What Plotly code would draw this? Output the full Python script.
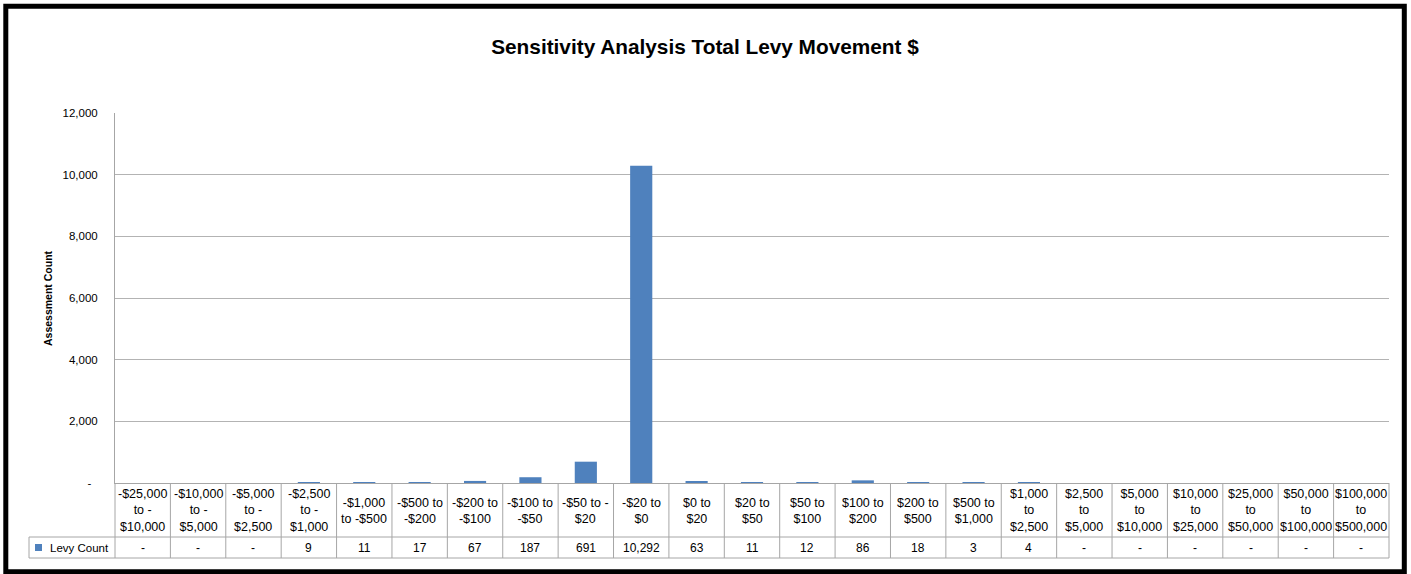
import plotly.graph_objects as go

# ---------------- data ----------------
categories = [
    "-$25,000<br>to -<br>$10,000", "-$10,000<br>to -<br>$5,000", "-$5,000<br>to -<br>$2,500",
    "-$2,500<br>to -<br>$1,000", "-$1,000<br>to -$500", "-$500 to<br>-$200", "-$200 to<br>-$100",
    "-$100 to<br>-$50", "-$50 to -<br>$20", "-$20 to<br>$0", "$0 to<br>$20", "$20 to<br>$50",
    "$50 to<br>$100", "$100 to<br>$200", "$200 to<br>$500", "$500 to<br>$1,000",
    "$1,000<br>to<br>$2,500", "$2,500<br>to<br>$5,000", "$5,000<br>to<br>$10,000",
    "$10,000<br>to<br>$25,000", "$25,000<br>to<br>$50,000", "$50,000<br>to<br>$100,000",
    "$100,000<br>to<br>$500,000",
]
levy_count = [0, 0, 0, 9, 11, 17, 67, 187, 691, 10292, 63, 11, 12, 86, 18, 3, 4, 0, 0, 0, 0, 0, 0]
series_name = "Levy Count"
y_tick_values = [0, 2000, 4000, 6000, 8000, 10000, 12000]
y_tick_labels = ["-\u00a0\u00a0", "2,000", "4,000", "6,000", "8,000", "10,000", "12,000"]
title_text = "Sensitivity Analysis Total Levy Movement $"
y_title = "Assessment Count"

# ---------------- layout geometry ----------------
FIG_W, FIG_H = 1411, 574
L, R, T, B = 115, 22, 113, 91
PW = FIG_W - L - R
PH = FIG_H - T - B
BAR_COLOR = "#4f81bd"
GRID = "#b3b3b3"
TABLE_LINE = "#a6a6a6"
FONT = "Liberation Sans, Arial, sans-serif"


def px_x(px):
    return (px - L) / PW


def px_y(py):
    return 1 - (py - T) / PH


n = len(categories)
x_idx = list(range(n))

fig = go.Figure()
fig.add_trace(go.Bar(
    x=x_idx, y=levy_count, name=series_name,
    marker=dict(color=BAR_COLOR, line=dict(width=0)),
    showlegend=False,
))

shapes = []
annotations = []

# table rows
header_mid = px_y(511)
row_mid = px_y(547.5)
row_top = px_y(537)
row_bot = px_y(558)
axis_bot = px_y(483)
legend_left = px_x(29)

for i, (cat, v) in enumerate(zip(categories, levy_count)):
    annotations.append(dict(x=i, xref="x", y=header_mid, yref="paper", text=cat,
                            showarrow=False, xanchor="center", yanchor="middle",
                            font=dict(family=FONT, size=12.5, color="#000")))
    annotations.append(dict(x=i, xref="x", y=row_mid, yref="paper",
                            text=(f"{v:,}" if v else "-"),
                            showarrow=False, xanchor="center", yanchor="middle",
                            font=dict(family=FONT, size=12, color="#000")))

# vertical table lines at category boundaries
for i in range(n + 1):
    xp = i / n
    shapes.append(dict(type="line", xref="paper", yref="paper", x0=xp, x1=xp,
                       y0=axis_bot, y1=row_bot, line=dict(color=TABLE_LINE, width=1)))
# horizontal table lines
for yy in (row_top, row_bot):
    shapes.append(dict(type="line", xref="paper", yref="paper", x0=legend_left, x1=1,
                       y0=yy, y1=yy, line=dict(color=TABLE_LINE, width=1)))
shapes.append(dict(type="line", xref="paper", yref="paper", x0=legend_left, x1=legend_left,
                   y0=row_top, y1=row_bot, line=dict(color=TABLE_LINE, width=1)))

# legend key
shapes.append(dict(type="rect", xref="paper", yref="paper", x0=px_x(35), x1=px_x(42),
                   y0=px_y(551), y1=px_y(544), fillcolor=BAR_COLOR, line=dict(width=0)))
annotations.append(dict(x=px_x(48), xref="paper", y=row_mid, yref="paper", text=series_name,
                        showarrow=False, xanchor="left", yanchor="middle",
                        font=dict(family=FONT, size=11.5, color="#000")))

# y-axis title
annotations.append(dict(x=px_x(48), xref="paper", y=0.5, yref="paper", text=f"<b>{y_title}</b>",
                        textangle=-90, showarrow=False, xanchor="center", yanchor="middle",
                        font=dict(family=FONT, size=10.5, color="#000")))

# outer frame
shapes.append(dict(type="rect", xref="paper", yref="paper", x0=px_x(5.8), x1=px_x(1404.3),
                   y0=px_y(571.8), y1=px_y(6.2), line=dict(color="#000", width=5),
                   fillcolor="rgba(0,0,0,0)", layer="above"))

fig.update_layout(
    width=FIG_W, height=FIG_H,
    margin=dict(l=L, r=R, t=T, b=B, autoexpand=False),
    paper_bgcolor="white", plot_bgcolor="white",
    bargap=0.6,
    title=dict(text=f"<b>{title_text}</b>", x=705 / FIG_W, xanchor="center",
               y=1 - 47 / FIG_H, yanchor="middle", xref="container", yref="container",
               font=dict(family=FONT, size=20.8, color="#000")),
    xaxis=dict(type="linear", range=[-0.5, n - 0.5], showticklabels=False, showgrid=False,
               zeroline=False, showline=True, linecolor=TABLE_LINE, linewidth=1, ticks=""),
    yaxis=dict(range=[0, 12000], tickvals=y_tick_values, ticktext=y_tick_labels,
               showgrid=True, gridcolor=GRID, gridwidth=1, zeroline=False,
               showline=True, linecolor=TABLE_LINE, linewidth=1, ticks="",
               ticklabelstandoff=14,
               tickfont=dict(family=FONT, size=11.5, color="#000")),
    shapes=shapes, annotations=annotations,
    font=dict(family=FONT, color="#000"),
)

fig.write_html(
    "out.html",
    config={"displayModeBar": False},
    post_script="document.body.style.margin='0';document.body.style.padding='0';"
                "document.documentElement.style.overflow='hidden';",
)
